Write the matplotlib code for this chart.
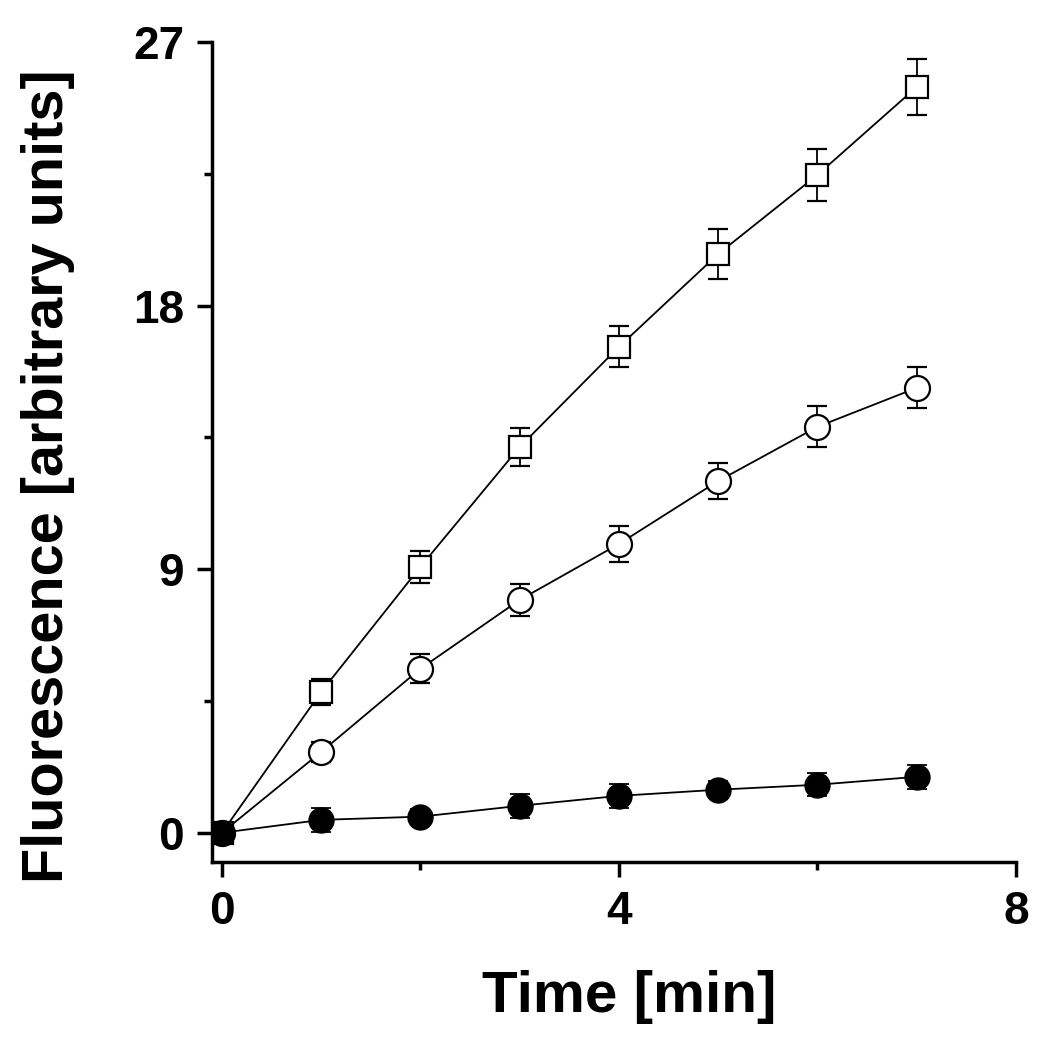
import matplotlib.pyplot as plt
from matplotlib.ticker import MultipleLocator

plt.rcParams["font.family"] = ["Liberation Sans", "DejaVu Sans"]

time_min = [0, 1, 2, 3, 4, 5, 6, 7]

squares = [0, 4.81, 9.08, 13.17, 16.59, 19.76, 22.46, 25.46]
squares_err = [0, 0.45, 0.55, 0.65, 0.7, 0.85, 0.9, 0.95]

open_circles = [0, 2.76, 5.6, 7.95, 9.86, 12.01, 13.86, 15.19]
open_circles_err = [0, 0.35, 0.5, 0.55, 0.6, 0.6, 0.7, 0.7]

filled_circles = [0, 0.44, 0.55, 0.92, 1.26, 1.47, 1.64, 1.91]
filled_circles_err = [0, 0.4, 0.25, 0.4, 0.4, 0.3, 0.4, 0.4]

fig = plt.figure(figsize=(10.48, 10.5), dpi=100)
ax = fig.add_axes([0.2023, 0.179, 0.767, 0.781])

common = dict(color="black", linewidth=1.3, elinewidth=1.3, capsize=7, capthick=1.3)
ax.errorbar(time_min, squares, yerr=squares_err, marker="s", markersize=16,
            markerfacecolor="white", markeredgecolor="black", markeredgewidth=1.6, **common)
ax.errorbar(time_min, open_circles, yerr=open_circles_err, marker="o", markersize=18,
            markerfacecolor="white", markeredgecolor="black", markeredgewidth=1.6, **common)
ax.errorbar(time_min, filled_circles, yerr=filled_circles_err, marker="o", markersize=18,
            markerfacecolor="black", markeredgecolor="black", **common)

ax.set_xlim(-0.1, 8)
ax.set_ylim(-1, 27)
ax.xaxis.set_major_locator(MultipleLocator(4))
ax.xaxis.set_minor_locator(MultipleLocator(2))
ax.yaxis.set_major_locator(MultipleLocator(9))
ax.yaxis.set_minor_locator(MultipleLocator(4.5))

ax.spines["top"].set_visible(False)
ax.spines["right"].set_visible(False)
ax.spines["left"].set_bounds(-1, 27)
for s in ("left", "bottom"):
    ax.spines[s].set_linewidth(2.5)

ax.tick_params(which="major", direction="out", length=11, width=2.5, labelsize=33, pad=9)
ax.tick_params(which="minor", direction="out", length=6, width=2.5)
for lbl in ax.get_xticklabels() + ax.get_yticklabels():
    lbl.set_fontweight("bold")

ax.set_xlabel("Time [min]", fontsize=42, fontweight="bold", labelpad=26)
ax.set_ylabel("Fluorescence [arbitrary units]", fontsize=41.5, fontweight="bold", labelpad=42)
ax.xaxis.label.set_x(0.519)
ax.yaxis.label.set_y(0.47)

fig.savefig("out.png", dpi=100)
